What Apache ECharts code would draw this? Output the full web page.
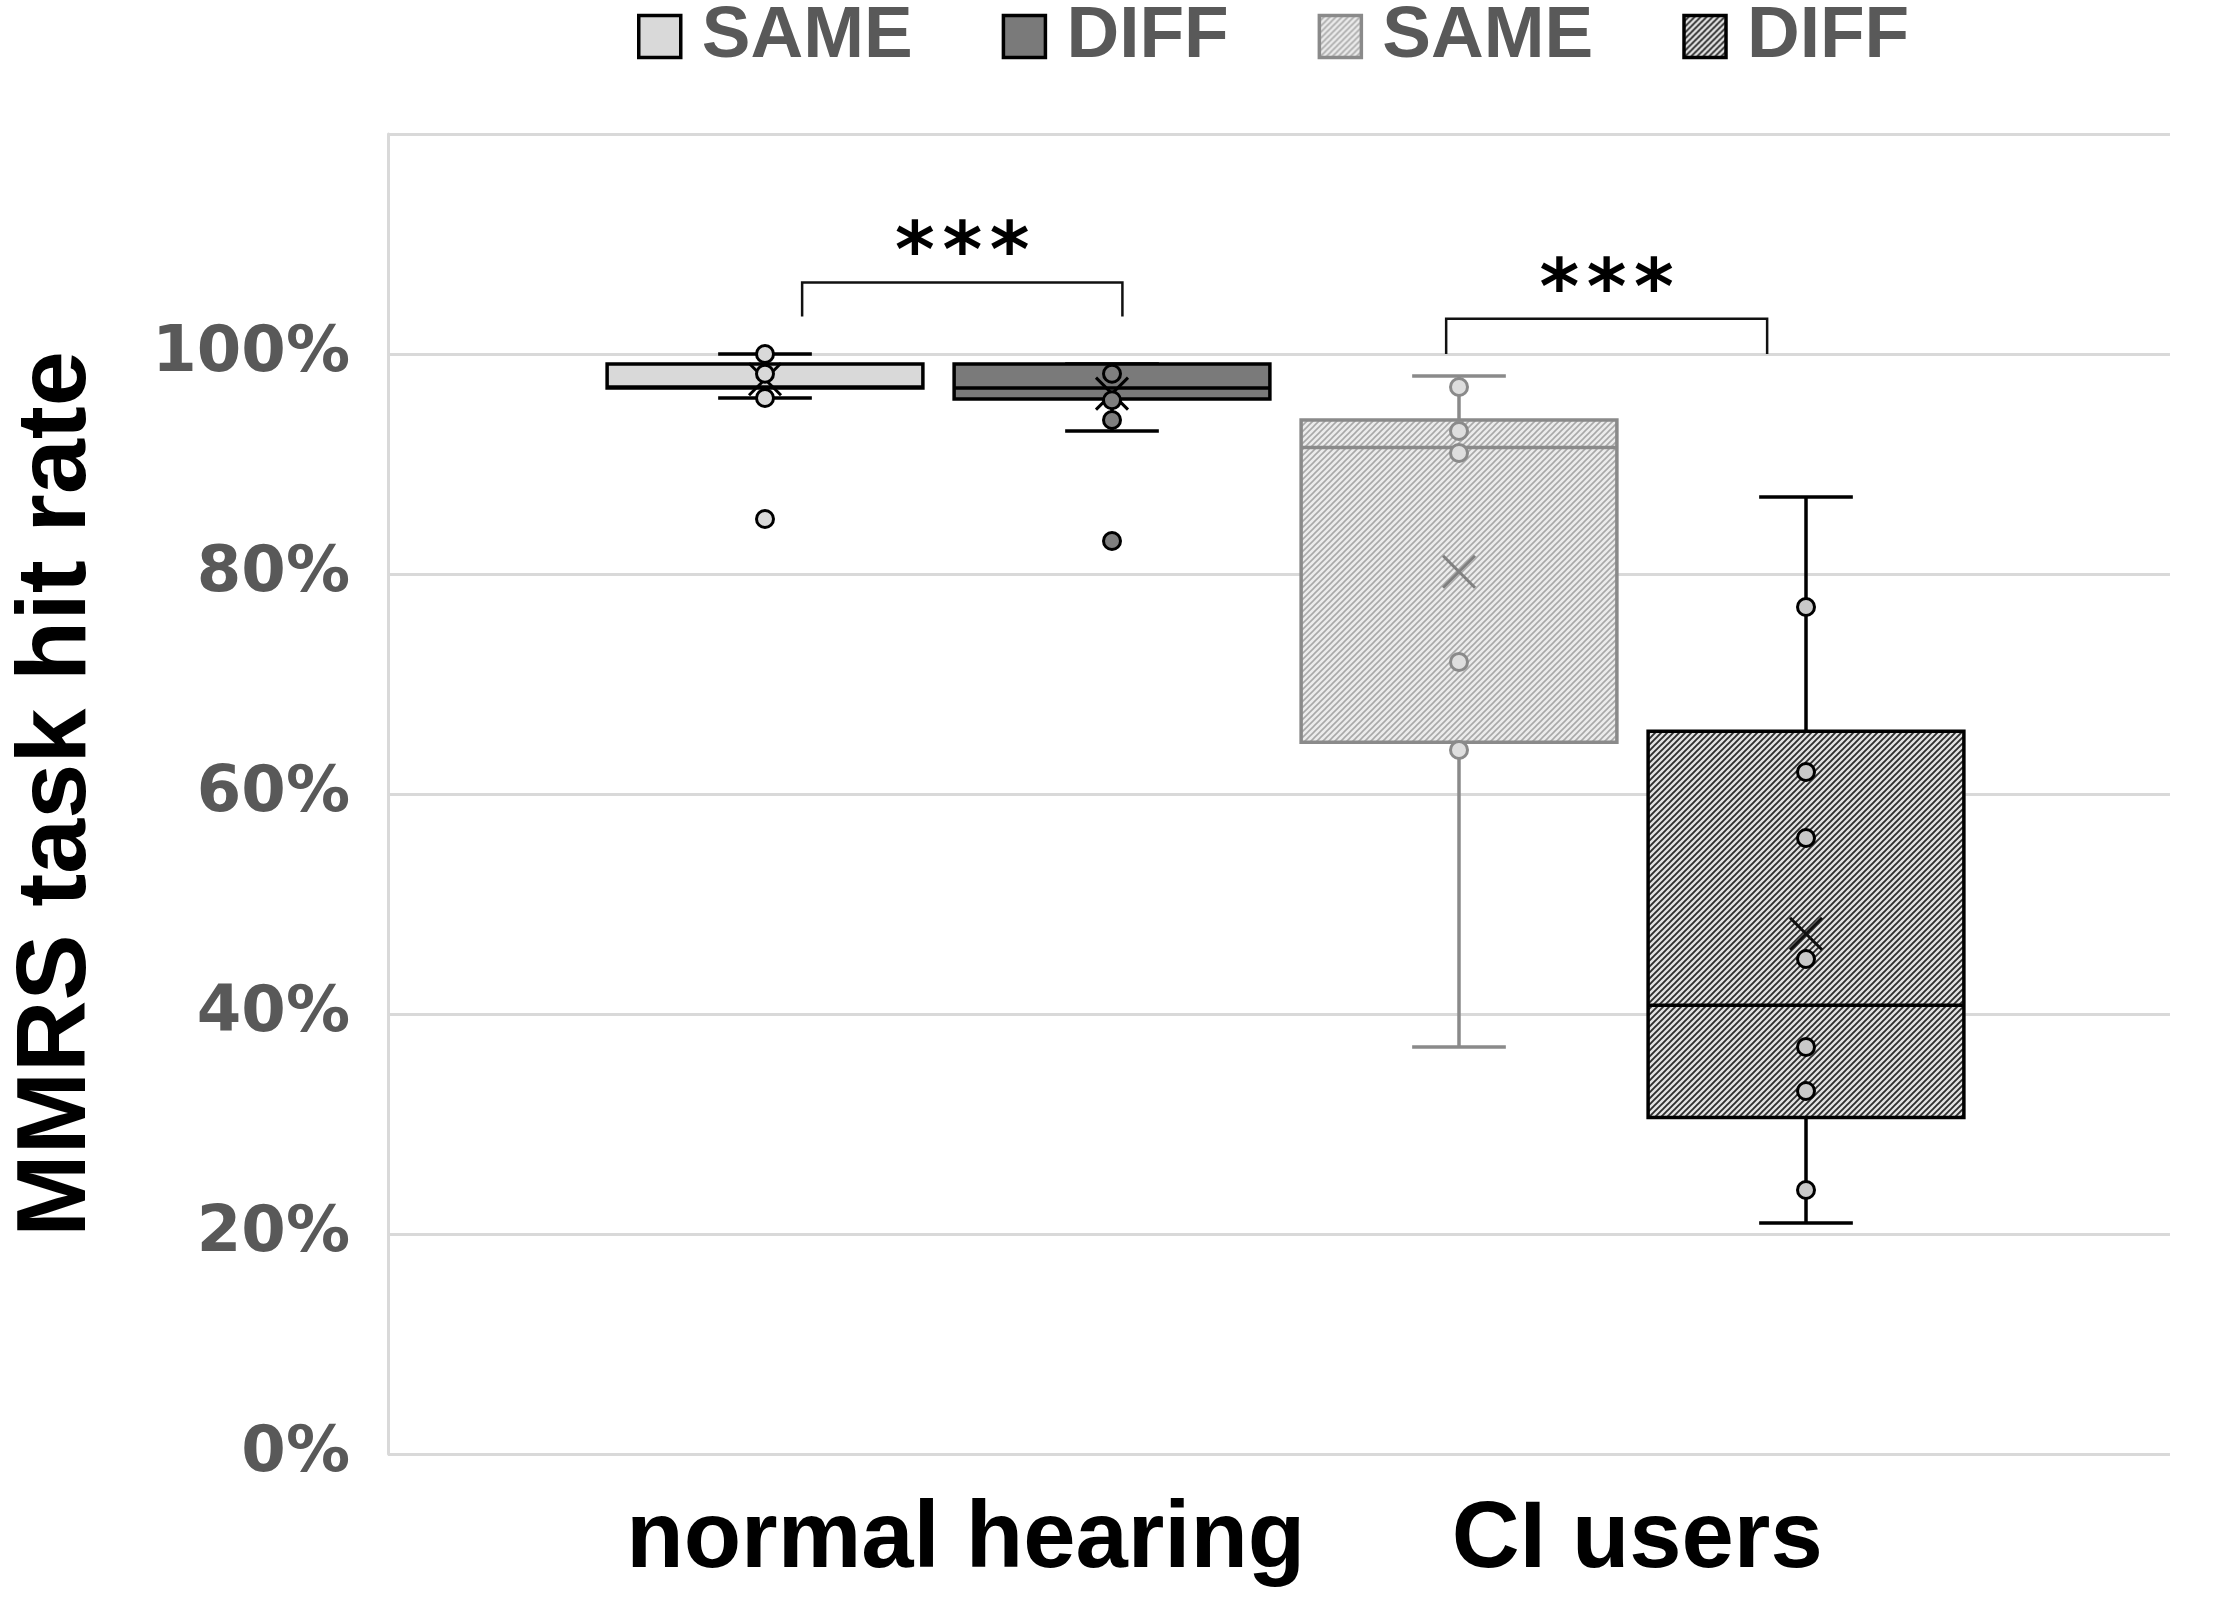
<!DOCTYPE html>
<html>
<head>
<meta charset="utf-8">
<script src="https://cdn.jsdelivr.net/npm/echarts@6/dist/echarts.min.js"></script>
<style>
html,body{margin:0;padding:0;background:#fff;}
#chart{width:2217px;height:1601px;}
</style>
</head>
<body>
<div id="chart"></div>
<script>
// ---------------- DATA ----------------
const categories = ['normal hearing', 'CI users'];
const boxIds = ['NH SAME', 'NH DIFF', 'CI SAME', 'CI DIFF'];
const legendLabels = ['SAME', 'DIFF', 'SAME', 'DIFF'];
// [min whisker, Q1, median, Q3, max whisker]
const nhSameStats = [96, 96.9, 97.0, 99.1, 100];
const nhDiffStats = [93, 95.9, 96.9, 99.1, 99.1];
const ciSameStats = [37, 64.7, 91.5, 94.0, 98];
const ciDiffStats = [21, 30.6, 40.8, 65.7, 87];
const boxMeans = [97.7, 96.4, 80.2, 47.3];
// individual points shown
const nhSamePoints = [100, 98.2, 96, 85];
const nhDiffPoints = [98.2, 95.8, 94, 83];
const ciSamePoints = [97, 93, 91, 72, 64];
const ciDiffPoints = [77, 62, 56, 45, 37, 33, 24];
// significance brackets
const sigPairs = [[0, 1], [2, 3]];
const sigTop = [106.5, 103.2];
const sigTip = [103.4, 100.0];
const sigLabels = ['*\u200A*\u200A*', '*\u200A*\u200A*'];
// y axis
const yMin = 0, yMax = 120, yStep = 20;

const allStats = [nhSameStats, nhDiffStats, ciSameStats, ciDiffStats];
const allPoints = [nhSamePoints, nhDiffPoints, ciSamePoints, ciDiffPoints];

// ---------------- STYLES ----------------
function hatch(bg, fg, size, lw) {
  const c = document.createElement('canvas');
  c.width = size; c.height = size;
  const ctx = c.getContext('2d');
  ctx.fillStyle = bg; ctx.fillRect(0, 0, size, size);
  ctx.strokeStyle = fg; ctx.lineWidth = lw;
  ctx.beginPath();
  ctx.moveTo(0, size); ctx.lineTo(size, 0);
  ctx.moveTo(-size/2, size/2); ctx.lineTo(size/2, -size/2);
  ctx.moveTo(size/2, size*1.5); ctx.lineTo(size*1.5, size/2);
  ctx.stroke();
  return { image: c, repeat: 'repeat' };
}
const lightHatch = hatch('#ececec', '#a9a9a9', 6, 1.6);
const darkHatch = hatch('#e2e2e2', '#2e2e2e', 6, 1.9);

const boxStyles = [
  { fill: '#d9d9d9', stroke: '#000000', pt: '#d9d9d9', mean: '#000000', lw: 3.5 },
  { fill: '#7a7a7a', stroke: '#000000', pt: '#7f7f7f', mean: '#000000', lw: 3.5 },
  { fill: lightHatch, stroke: '#8a8a8a', pt: '#dedede', mean: '#808080', lw: 3.5 },
  { fill: darkHatch, stroke: '#000000', pt: '#c8c8c8', mean: '#111111', lw: 3.5 }
];
const bracketOffsets = [[0.107, 0.03], [-0.037, -0.112]];

// ---------------- SERIES ----------------
function boxRender(i) {
  return function (params, api) {
    const c = api.value(0);
    const P = v => api.coord([c, v]);
    const bw = api.size([1, 0])[0];
    const half = bw * 0.455, capHalf = bw * 0.135;
    const pMin = P(api.value(1));
    const cx = pMin[0];
    const yLo = pMin[1];
    const yQ1 = P(api.value(2))[1];
    const yMed = P(api.value(3))[1];
    const yQ3 = P(api.value(4))[1];
    const yHi = P(api.value(5))[1];
    const yMean = P(api.value(6))[1];
    const st = boxStyles[i];
    const ls = { stroke: st.stroke, lineWidth: st.lw };
    const m = 16;
    return {
      type: 'group',
      children: [
        { type: 'line', shape: { x1: cx, y1: yQ3, x2: cx, y2: yHi }, style: ls },
        { type: 'line', shape: { x1: cx, y1: yQ1, x2: cx, y2: yLo }, style: ls },
        { type: 'line', shape: { x1: cx - capHalf, y1: yHi, x2: cx + capHalf, y2: yHi }, style: ls },
        { type: 'line', shape: { x1: cx - capHalf, y1: yLo, x2: cx + capHalf, y2: yLo }, style: ls },
        { type: 'rect', shape: { x: cx - half, y: yQ3, width: 2 * half, height: yQ1 - yQ3 },
          style: { fill: st.fill, stroke: st.stroke, lineWidth: st.lw } },
        { type: 'line', shape: { x1: cx - half, y1: yMed, x2: cx + half, y2: yMed }, style: ls },
        { type: 'line', shape: { x1: cx - m, y1: yMean - m, x2: cx + m, y2: yMean + m },
          style: { stroke: st.mean, lineWidth: 3 } },
        { type: 'line', shape: { x1: cx - m, y1: yMean + m, x2: cx + m, y2: yMean - m },
          style: { stroke: st.mean, lineWidth: 3 } }
      ]
    };
  };
}

const series = [];
allStats.forEach((s, i) => {
  series.push({
    name: boxIds[i],
    type: 'custom',
    xAxisIndex: 2, yAxisIndex: 2,
    z: 2,
    renderItem: boxRender(i),
    encode: { x: 0, y: [1, 2, 3, 4, 5] },
    data: [[i, s[0], s[1], s[2], s[3], s[4], boxMeans[i]]],
    silent: true
  });
});
allPoints.forEach((pts, i) => {
  const st = boxStyles[i];
  series.push({
    name: boxIds[i],
    type: 'scatter',
    xAxisIndex: 2, yAxisIndex: 2,
    z: 3,
    symbol: 'circle',
    symbolSize: 17,
    itemStyle: { color: st.pt, borderColor: st.stroke, borderWidth: 3, opacity: 1 },
    data: pts.map(v => [i, v]),
    silent: true
  });
});
series.push({
  name: 'sig',
  type: 'custom',
  xAxisIndex: 2, yAxisIndex: 2,
  z: 4,
  silent: true,
  encode: { x: [0, 1], y: [2, 3] },
  data: sigPairs.map((p, k) => [p[0], p[1], sigTop[k], sigTip[k], k]),
  renderItem: function (params, api) {
    const k = api.value(4);
    const bw = api.size([1, 0])[0];
    const a = api.coord([api.value(0), api.value(2)]);
    const b = api.coord([api.value(1), api.value(2)]);
    const tip = api.coord([api.value(0), api.value(3)])[1];
    const x1 = a[0] + bracketOffsets[k][0] * bw;
    const x2 = b[0] + bracketOffsets[k][1] * bw;
    const y = a[1];
    return {
      type: 'group',
      children: [
        { type: 'polyline', shape: { points: [[x1, tip], [x1, y], [x2, y], [x2, tip]] },
          style: { stroke: '#111', lineWidth: 2.5, fill: null } },
        { type: 'text', x: (x1 + x2) / 2, y: y - 26,
          style: { text: sigLabels[k], fontSize: 76, fontWeight: 'bold', fontFamily: 'DejaVu Sans',
                   fill: '#000', align: 'center', verticalAlign: 'middle' } }
      ]
    };
  }
});

const option = {
  backgroundColor: '#ffffff',
  animation: false,
  legend: {
    left: 632, top: -5,
    itemWidth: 42, itemHeight: 42, itemGap: 89,
    selectedMode: false,
    formatter: name => legendLabels[boxIds.indexOf(name)],
    textStyle: { fontSize: 73, lineHeight: 50, fontWeight: 'bold', fontFamily: 'Liberation Sans', color: '#595959',
                 padding: [0, 0, 0, 16] },
    data: boxIds.map((id, i) => ({
      name: id, icon: 'rect',
      itemStyle: { color: boxStyles[i].fill, borderColor: boxStyles[i].stroke, borderWidth: 3.5 }
    }))
  },
  grid: [
    { left: 382, right: 47, top: 134, bottom: 147 },
    { left: 630, right: 244, top: 134, bottom: 147 },
    { left: 591.5, right: 237.5, top: 134, bottom: 147 }
  ],
  xAxis: [
    { gridIndex: 0, type: 'value', min: 0, max: 1, show: false },
    { gridIndex: 1, type: 'category', data: categories,
      axisLine: { show: false }, axisTick: { show: false }, splitLine: { show: false },
      axisLabel: { interval: 0, hideOverlap: false, fontSize: 94, fontWeight: 'bold',
                   fontFamily: 'Liberation Sans', color: '#000', margin: 40, lineHeight: 94 } },
    { gridIndex: 2, type: 'category', data: boxIds, show: false }
  ],
  yAxis: [
    { gridIndex: 0, type: 'value', min: yMin, max: yMax, interval: yStep,
      name: 'MMRS task hit rate', nameLocation: 'middle', nameGap: 281,
      nameTextStyle: { fontSize: 99, fontWeight: 'bold', fontFamily: 'Liberation Sans', color: '#000' },
      axisLine: { show: true, lineStyle: { color: '#d9d9d9', width: 3 } },
      axisTick: { show: false },
      splitLine: { show: true, lineStyle: { color: '#d9d9d9', width: 3 } },
      axisLabel: { formatter: v => (v >= yMax ? '' : v + '%'), fontSize: 64, fontWeight: 'bold',
                   fontFamily: 'DejaVu Sans', color: '#595959', margin: 38 } },
    { gridIndex: 1, type: 'value', min: yMin, max: yMax, show: false },
    { gridIndex: 2, type: 'value', min: yMin, max: yMax, show: false }
  ],
  series: series
};

const chart = echarts.init(document.getElementById('chart'), null, { renderer: 'canvas' });
chart.setOption(option);
</script>
</body>
</html>
